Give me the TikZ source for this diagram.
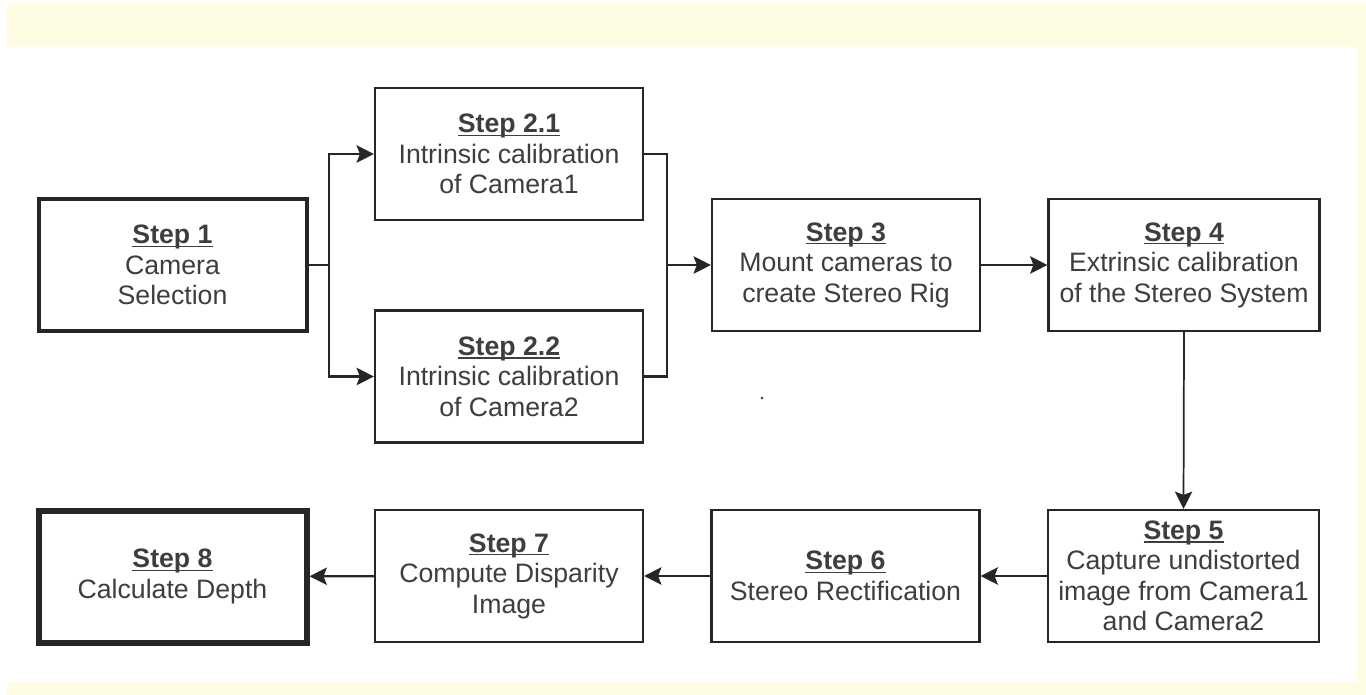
\documentclass[tikz,border=0pt]{standalone}
\usepackage{fontspec}
\setmainfont{Liberation Sans}
\usetikzlibrary{arrows.meta}
\definecolor{cream}{RGB}{255,252,228}
\definecolor{boxline}{RGB}{38,38,38}
\definecolor{labeltext}{RGB}{62,62,62}
\definecolor{speck}{RGB}{40,40,120}
% bold step title with a low underline
\newcommand\steptitle[1]{\setbox0\hbox{\bfseries #1}\rlap{\rule[-2.6pt]{\wd0}{1.1pt}}\box0}

\begin{document}
\begin{tikzpicture}[x=0.75pt,y=-0.75pt,
  stepbox/.style={draw=boxline, line width=1.6pt, fill=white, align=center,
    text=labeltext, inner sep=0pt, minimum width=201pt, minimum height=99pt,
    font=\fontsize{20}{22.9}\selectfont},
  widebox/.style={stepbox, minimum width=203.25pt},
  keybox/.style={stepbox, line width=3pt},
  endbox/.style={stepbox, line width=4.5pt},
  conn/.style={draw=boxline, line width=1.8pt},
  flow/.style={conn, -{Stealth[length=13pt,width=13pt,inset=2.5pt]}},
]
\useasboundingbox (0,0) rectangle (1366,695);
% page background and cream frame
\fill[white] (0,0) rectangle (1366,695);
\fill[cream] (7,3) rectangle (1366,47);
\fill[cream] (1357,47) rectangle (1366,682);
\fill[cream] (7,682) rectangle (1366,695);

% steps
\node[keybox]  (s1)  at (172.5,265)  {\steptitle{Step 1}\\Camera\\Selection};
\node[stepbox] (s21) at (509,154)    {\steptitle{Step 2.1}\\Intrinsic calibration\\of Camera1};
\node[stepbox] (s22) at (509,376.5)  {\steptitle{Step 2.2}\\Intrinsic calibration\\of Camera2};
\node[stepbox] (s3)  at (846,265)    {\steptitle{Step 3}\\Mount cameras to\\create Stereo Rig};
\node[widebox] (s4)  at (1184,265)   {\steptitle{Step 4}\\Extrinsic calibration\\of the Stereo System};
\node[widebox] (s5)  at (1183.5,576) {\steptitle{Step 5}\\Capture undistorted\\image from Camera1\\and Camera2};
\node[stepbox] (s6)  at (845.5,576)  {\steptitle{Step 6}\\Stereo Rectification};
\node[stepbox] (s7)  at (509,576)    {\steptitle{Step 7}\\Compute Disparity\\Image};
\node[endbox]  (s8)  at (172.5,576.5){\steptitle{Step 8}\\Calculate Depth};

% split after step 1, merge before step 3
\coordinate (split) at (329,265);
\coordinate (merge) at (667,265);
\draw[conn] (s1.east) -- (split);
\draw[flow] (split) |- (s21.west);
\draw[flow] (split) |- (s22.west);
\draw[conn] (s21.east) -| (merge);
\draw[conn] (s22.east) -| (merge);
\draw[flow] (merge) -- (s3.west);

% main chain
\draw[flow] (s3) -- (s4);
\draw[flow, line width=1.3pt] (s4.south) -- (s5.north);
\draw[flow] (s5) -- (s6);
\draw[flow] (s6) -- (s7);
\draw[flow] (s7) -- (s8);

% small speck
\fill[speck] (762,398) circle (1.3);
\end{tikzpicture}
\end{document}
